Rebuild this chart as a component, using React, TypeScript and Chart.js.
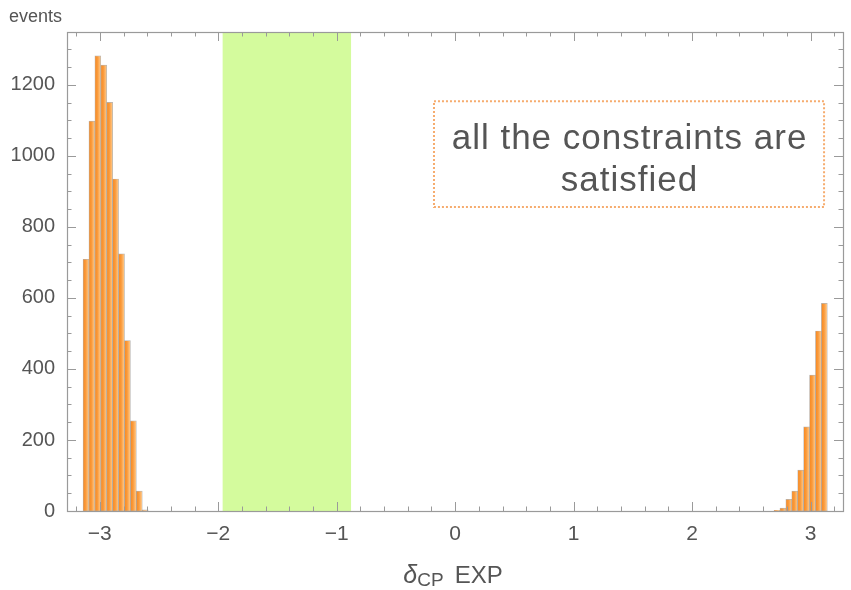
import React, { useEffect, useRef } from 'react';
import { Chart, registerables } from 'chart.js';

Chart.register(...registerables);

// ---- data ----
const BIN_WIDTH = 0.05;
const LEFT_BIN_CENTERS = [-3.1166, -3.0666, -3.0166, -2.9666, -2.9166, -2.8666, -2.8166, -2.7666, -2.7166, -2.6666, -2.6166];
const LEFT_COUNTS = [709, 1098, 1282, 1256, 1151, 935, 724, 480, 254, 56, 3];
const RIGHT_BIN_CENTERS = [2.7166, 2.7666, 2.8166, 2.8666, 2.9166, 2.9666, 3.0166, 3.0666, 3.1166];
const RIGHT_COUNTS = [2, 8, 33, 56, 115, 237, 383, 507, 585];

const X_TICKS = [-3, -2, -1, 0, 1, 2, 3];
const Y_TICKS = [0, 200, 400, 600, 800, 1000, 1200];
const X_MIN = -3.277;
const X_MAX = 3.274;
const Y_MIN = 0;
const Y_MAX = 1349;
const X_MINOR_STEP = 0.2;
const Y_MINOR_STEP = 50;

const BAND_FROM = -1.963;
const BAND_TO = -0.879;

const NOTE_LINES = ['all the constraints are', 'satisfied'];
const NOTE_BOX_X = [-0.179, 3.114];
const NOTE_BOX_Y = [1154, 856];

const Y_TITLE = 'events';
const X_TITLE_SYMBOL = 'δ';
const X_TITLE_SUB = 'CP';
const X_TITLE_REST = 'EXP';

const FONT = '"Liberation Sans", Arial, Helvetica, sans-serif';
const TEXT_COLOR = '#555555';
const FRAME_COLOR = '#9a9a9a';

const fmt = (v: number) => (v < 0 ? '\u2212' + Math.abs(v) : String(v));

const framePlugin = {
  id: 'mmaFrame',
  beforeDatasetsDraw(chart: any) {
    const { ctx, chartArea: a, scales } = chart;
    const x = scales.x;
    ctx.save();
    ctx.fillStyle = 'rgba(205,250,140,0.85)';
    const x0 = x.getPixelForValue(BAND_FROM);
    const x1 = x.getPixelForValue(BAND_TO);
    ctx.fillRect(x0, a.top, x1 - x0, a.bottom - a.top);
    ctx.restore();
  },
  afterDatasetsDraw(chart: any) {
    const { ctx, chartArea: a, scales } = chart;
    const x = scales.x;
    const y = scales.y;
    ctx.save();
    ctx.strokeStyle = FRAME_COLOR;
    ctx.lineWidth = 1;
    ctx.beginPath();
    const majorLen = 9;
    const minorLen = 4.5;
    const kMin = Math.ceil(X_MIN / X_MINOR_STEP - 1e-9);
    const kMax = Math.floor(X_MAX / X_MINOR_STEP + 1e-9);
    for (let k = kMin; k <= kMax; k++) {
      const v = k * X_MINOR_STEP;
      const isMajor = Math.abs(v - Math.round(v)) < 1e-6;
      const px = Math.round(x.getPixelForValue(v)) + 0.5;
      const len = isMajor ? majorLen : minorLen;
      ctx.moveTo(px, a.bottom);
      ctx.lineTo(px, a.bottom - len);
      ctx.moveTo(px, a.top);
      ctx.lineTo(px, a.top + len);
    }
    for (let v = Y_MIN; v <= Y_MAX; v += Y_MINOR_STEP) {
      const isMajor = v % 200 === 0;
      const py = Math.round(y.getPixelForValue(v)) + 0.5;
      const len = isMajor ? majorLen : minorLen;
      ctx.moveTo(a.left, py);
      ctx.lineTo(a.left + len, py);
      ctx.moveTo(a.right, py);
      ctx.lineTo(a.right - len, py);
    }
    ctx.stroke();
    ctx.lineWidth = 1.2;
    ctx.strokeRect(Math.round(a.left) + 0.5, Math.round(a.top) + 0.5, Math.round(a.right - a.left), Math.round(a.bottom - a.top));

    // note box
    const bx0 = x.getPixelForValue(NOTE_BOX_X[0]);
    const bx1 = x.getPixelForValue(NOTE_BOX_X[1]);
    const by0 = y.getPixelForValue(NOTE_BOX_Y[0]);
    const by1 = y.getPixelForValue(NOTE_BOX_Y[1]);
    ctx.strokeStyle = 'rgb(246,172,110)';
    ctx.lineWidth = 2;
    ctx.setLineDash([2, 2]);
    ctx.strokeRect(bx0, by0, bx1 - bx0, by1 - by0);
    ctx.setLineDash([]);
    ctx.fillStyle = TEXT_COLOR;
    const sp = 1;
    ctx.font = `35px ${FONT}`;
    (ctx as any).letterSpacing = sp + 'px';
    ctx.textAlign = 'left';
    ctx.textBaseline = 'alphabetic';
    const cx = (bx0 + bx1) / 2;
    NOTE_LINES.forEach((line, i) => {
      const w = ctx.measureText(line).width - sp;
      ctx.fillText(line, cx - w / 2, by0 + 48 + i * 42);
    });
    (ctx as any).letterSpacing = '0px';
    ctx.restore();
  },
  afterDraw(chart: any) {
    const { ctx, chartArea: a } = chart;
    ctx.save();
    ctx.fillStyle = TEXT_COLOR;
    ctx.textBaseline = 'alphabetic';
    ctx.textAlign = 'left';
    // y title
    ctx.font = `18px ${FONT}`;
    ctx.fillText(Y_TITLE, 9, 22);
    // x title
    const fMain = `24px ${FONT}`;
    const fIt = `italic 25px ${FONT}`;
    const fSub = `19px ${FONT}`;
    ctx.font = fIt;
    const w1 = ctx.measureText(X_TITLE_SYMBOL).width;
    ctx.font = fSub;
    const w2 = ctx.measureText(X_TITLE_SUB).width;
    ctx.font = fMain;
    const gap = 11;
    const w3 = ctx.measureText(X_TITLE_REST).width;
    const total = w1 + w2 + gap + w3;
    let xx = (a.left + a.right) / 2 - 2 - total / 2;
    const base = 583;
    ctx.font = fIt;
    ctx.fillText(X_TITLE_SYMBOL, xx, base);
    xx += w1;
    ctx.font = fSub;
    ctx.fillText(X_TITLE_SUB, xx, base + 3);
    xx += w2 + gap;
    ctx.font = fMain;
    ctx.fillText(X_TITLE_REST, xx, base);
    ctx.restore();
  },
};

export default function App() {
  const ref = useRef<HTMLCanvasElement | null>(null);
  useEffect(() => {
    if (!ref.current) return;
    const points = [
      ...LEFT_BIN_CENTERS.map((c, i) => ({ x: c, y: LEFT_COUNTS[i] })),
      ...RIGHT_BIN_CENTERS.map((c, i) => ({ x: c, y: RIGHT_COUNTS[i] })),
    ];
    const chart = new Chart(ref.current, {
      type: 'bar',
      data: {
        datasets: [
          {
            label: 'events',
            data: points as any,
            barPercentage: 1,
            categoryPercentage: 1,
            borderWidth: 0.7,
            borderColor: 'rgba(140,140,140,0.65)',
            borderSkipped: false,
            backgroundColor: (c: any) => {
              const ch = c.chart;
              const xs = ch.scales && ch.scales.x;
              if (!xs || !c.raw || !ch.chartArea) return 'rgb(250,160,70)';
              const px = xs.getPixelForValue(c.raw.x);
              const half = (xs.getPixelForValue(BIN_WIDTH) - xs.getPixelForValue(0)) / 2;
              const g = ch.ctx.createLinearGradient(px - half, 0, px + half, 0);
              g.addColorStop(0, 'rgb(247,136,32)');
              g.addColorStop(0.45, 'rgb(250,155,60)');
              g.addColorStop(1, 'rgb(255,205,145)');
              return g;
            },
          },
        ],
      },
      options: {
        responsive: false,
        animation: false,
        devicePixelRatio: 1,
        layout: { padding: { left: 0, right: 8, top: 32, bottom: 0 } },
        plugins: { legend: { display: false }, tooltip: { enabled: false } },
        scales: {
          x: {
            type: 'linear',
            min: X_MIN,
            max: X_MAX,
            offset: false,
            grid: { display: false },
            border: { display: false },
            afterBuildTicks: (s: any) => {
              s.ticks = X_TICKS.map((v) => ({ value: v }));
            },
            afterFit: (s: any) => {
              s.height = 79;
            },
            ticks: {
              padding: 3,
              maxRotation: 0,
              autoSkip: false,
              color: TEXT_COLOR,
              font: { family: FONT, size: 21 },
              callback: (v: any) => fmt(Number(v)),
            },
          },
          y: {
            type: 'linear',
            min: Y_MIN,
            max: Y_MAX,
            grid: { display: false },
            border: { display: false },
            afterBuildTicks: (s: any) => {
              s.ticks = Y_TICKS.map((v) => ({ value: v }));
            },
            afterFit: (s: any) => {
              s.width = 67;
            },
            ticks: {
              padding: 4,
              autoSkip: false,
              color: TEXT_COLOR,
              font: { family: FONT, size: 20 },
              callback: (v: any) => fmt(Number(v)),
            },
          },
        },
      },
      plugins: [framePlugin as any],
    });
    return () => chart.destroy();
  }, []);
  return (
    <div style={{ position: 'fixed', left: 0, top: 0, width: 851, height: 590, background: '#ffffff' }}>
      <canvas ref={ref} width={851} height={590} style={{ display: 'block', width: 851, height: 590 }} />
    </div>
  );
}
